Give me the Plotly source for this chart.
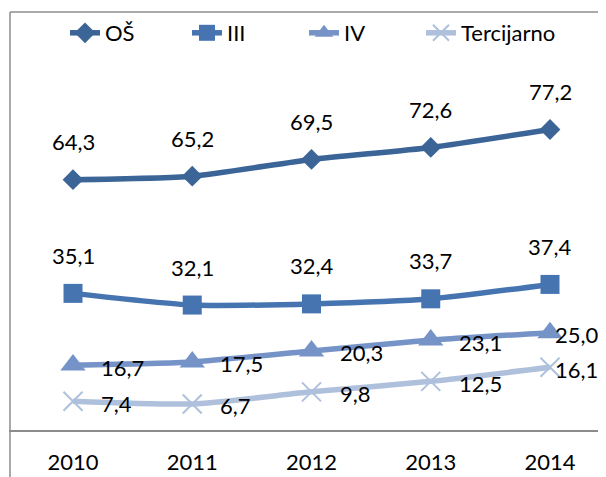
import plotly.graph_objects as go

years = [2010, 2011, 2012, 2013, 2014]
series_names = ["OŠ", "III", "IV", "Tercijarno"]
os_values = [64.3, 65.2, 69.5, 72.6, 77.2]
iii_values = [35.1, 32.1, 32.4, 33.7, 37.4]
iv_values = [16.7, 17.5, 20.3, 23.1, 25.0]
tert_values = [7.4, 6.7, 9.8, 12.5, 16.1]

FONT = "Lato, 'Open Sans', sans-serif"
# the page body adds an 8px margin, so the figure is drawn 8px in from the window
OFF = 8
W, H = 606 - OFF, 477 - OFF
# plot area in window pixels
PLOT_L, PLOT_R, PLOT_T, PLOT_B = 9, 606, 79, 430

styles = [
    {"color": "#3B6497", "symbol": "diamond", "size": 16, "label": "above", "legend_x": 85},
    {"color": "#4674B0", "symbol": "square", "size": 19, "label": "above", "legend_x": 207},
    {"color": "#7693C8", "symbol": "triangle-up", "size": 22, "label": "right", "legend_x": 324},
    {"color": "#AFC0DC", "symbol": "x-thin", "size": 19, "label": "right", "legend_x": 441},
]


def fmt(v):
    return f"{v:.1f}".replace(".", ",")


def xp(px):
    return (px - PLOT_L) / (PLOT_R - PLOT_L)


def yp(py):
    return (PLOT_B - py) / (PLOT_B - PLOT_T)


fig = go.Figure()
annotations = []
legends = {}
for k, (name, values, st) in enumerate(
    zip(series_names, [os_values, iii_values, iv_values, tert_values], styles)
):
    marker = {"symbol": st["symbol"], "size": st["size"], "color": st["color"]}
    if st["symbol"] == "x-thin":
        marker["line"] = {"color": st["color"], "width": 2}
    legend_id = "legend" if k == 0 else f"legend{k + 1}"
    fig.add_trace(
        go.Scatter(
            x=years,
            y=values,
            name=name,
            mode="lines+markers",
            line={"color": st["color"], "width": 5.5, "shape": "spline", "smoothing": 0.6},
            marker=marker,
            legend=legend_id,
        )
    )
    # one small legend per series so each entry can sit where the original has it
    legends[legend_id] = {
        "orientation": "h",
        "x": xp(st["legend_x"] - 20),
        "y": yp(33),
        "xanchor": "left",
        "yanchor": "middle",
        "itemwidth": 30,
        "font": {"family": FONT, "size": 22},
        "bgcolor": "rgba(0,0,0,0)",
        "borderwidth": 0,
    }
    for i, (yr, v) in enumerate(zip(years, values)):
        if st["label"] == "above":
            annotations.append(dict(x=yr, y=v, text=fmt(v), showarrow=False,
                                    xanchor="center", yanchor="middle", yshift=38))
        else:
            annotations.append(dict(x=yr, y=v, text=fmt(v), showarrow=False,
                                    xanchor="left", yanchor="middle",
                                    xshift=3 if i == len(years) - 1 else 26, yshift=-2))

px_per_year = 119.25
x0 = years[0] - (73 - PLOT_L) / px_per_year
x1 = x0 + (PLOT_R - PLOT_L) / px_per_year
px_per_unit = (429.5 - 129) / max(os_values)
y1 = (PLOT_B - PLOT_T) / px_per_unit

fig.update_layout(
    width=W,
    height=H,
    margin={"l": PLOT_L - OFF, "r": 606 - PLOT_R, "t": PLOT_T - OFF, "b": 477 - PLOT_B,
            "pad": 0, "autoexpand": False},
    paper_bgcolor="white",
    plot_bgcolor="white",
    font={"family": FONT, "size": 22, "color": "#000000"},
    showlegend=True,
    annotations=annotations,
    shapes=[
        dict(type="line", xref="paper", yref="paper", x0=xp(10), x1=xp(10), y0=yp(12), y1=yp(490),
             line={"color": "#8C8C8C", "width": 1.5}),
        dict(type="line", xref="paper", yref="paper", x0=xp(10), x1=xp(620), y0=yp(12), y1=yp(12),
             line={"color": "#8C8C8C", "width": 1.5}),
    ],
    **legends,
)
fig.update_xaxes(
    range=[x0, x1],
    tickvals=years,
    ticktext=[str(y) for y in years],
    showgrid=False,
    zeroline=False,
    showline=True,
    linecolor="#8C8C8C",
    linewidth=1.5,
    ticks="",
    ticklabelstandoff=12,
    automargin=False,
    tickfont={"family": FONT, "size": 22},
)
fig.update_yaxes(range=[0, y1], visible=False, showgrid=False, zeroline=False, automargin=False)

fig.write_html("out.html")
